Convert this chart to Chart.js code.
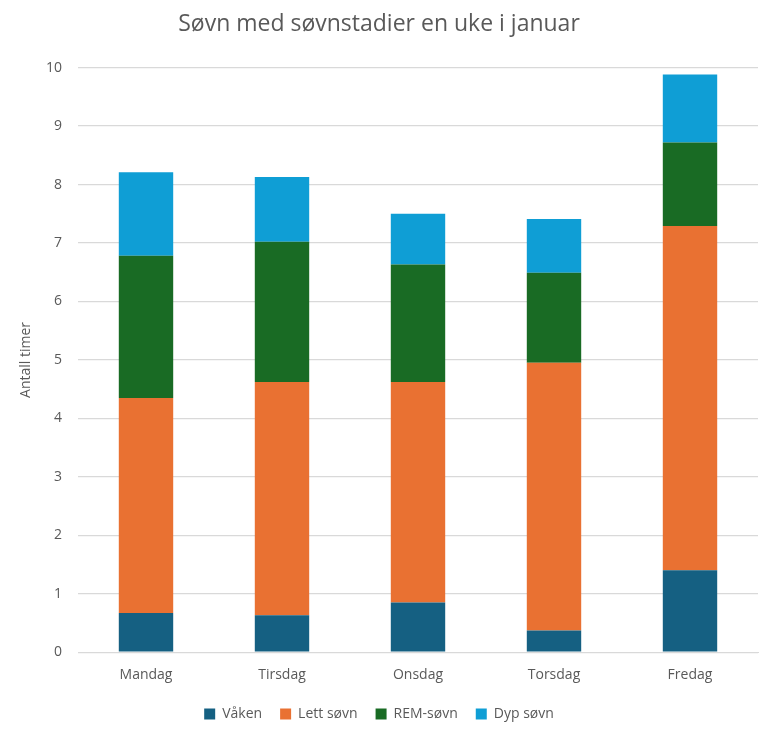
<!DOCTYPE html>
<html>
<head>
<meta charset="utf-8">
<script src="https://cdn.jsdelivr.net/npm/chart.js@4"></script>
<style>
html,body{margin:0;padding:0;background:#fff;}
#wrap{width:778px;height:736px;}
</style>
</head>
<body>
<div id="wrap"><canvas id="c" width="778" height="736"></canvas></div>
<script>
const categories = ["Mandag", "Tirsdag", "Onsdag", "Torsdag", "Fredag"];
const vaken = [0.67, 0.63, 0.85, 0.37, 1.40];
const lettSovn = [3.68, 3.99, 3.77, 4.58, 5.89];
const remSovn = [2.43, 2.40, 2.01, 1.54, 1.43];
const dypSovn = [1.43, 1.11, 0.87, 0.92, 1.16];
const yTicks = [0,1,2,3,4,5,6,7,8,9,10];
const seriesNames = ["Våken", "Lett søvn", "REM-søvn", "Dyp søvn"];

const FONT = "'Open Sans', 'Noto Sans', sans-serif";
const TXT = '#595959';

new Chart(document.getElementById('c'), {
  type: 'bar',
  data: {
    labels: categories,
    datasets: [
      {label: seriesNames[0], data: vaken, backgroundColor: '#156082'},
      {label: seriesNames[1], data: lettSovn, backgroundColor: '#E97132'},
      {label: seriesNames[2], data: remSovn, backgroundColor: '#196B24'},
      {label: seriesNames[3], data: dypSovn, backgroundColor: '#0F9ED5'}
    ].map(d => Object.assign(d, {categoryPercentage: 0.4, barPercentage: 1, borderWidth: 0}))
  },
  options: {
    responsive: false,
    animation: false,
    layout: {padding: {left: 0, right: 20, top: 11, bottom: 5}},
    plugins: {
      title: {
        display: true,
        text: 'Søvn med søvnstadier en uke i januar',
        color: TXT,
        font: {family: FONT, size: 23, weight: 'normal'},
        padding: {top: 0, bottom: 29}
      },
      legend: {
        position: 'bottom',
        labels: {
          color: TXT,
          font: {family: FONT, size: 14},
          boxWidth: 11, boxHeight: 11,
          padding: 18
        }
      },
      tooltip: {enabled: false}
    },
    scales: {
      x: {
        stacked: true,
        grid: {display: false},
        border: {color: '#d9d9d9', width: 1},
        ticks: {color: TXT, font: {family: FONT, size: 14}, padding: 6}
      },
      y: {
        stacked: true,
        min: 0, max: 10,
        afterBuildTicks: ax => { ax.ticks = yTicks.map(v => ({value: v})); },
        afterFit: ax => { ax.width = 78; },
        grid: {color: '#d9d9d9', lineWidth: 1.3, drawTicks: false},
        border: {display: false},
        ticks: {color: TXT, font: {family: FONT, size: 14}, padding: 16},
        title: {display: true, text: 'Antall timer', color: TXT, font: {family: FONT, size: 14}, padding: {top: 18, bottom: 0}}
      }
    }
  }
});
</script>
</body>
</html>
